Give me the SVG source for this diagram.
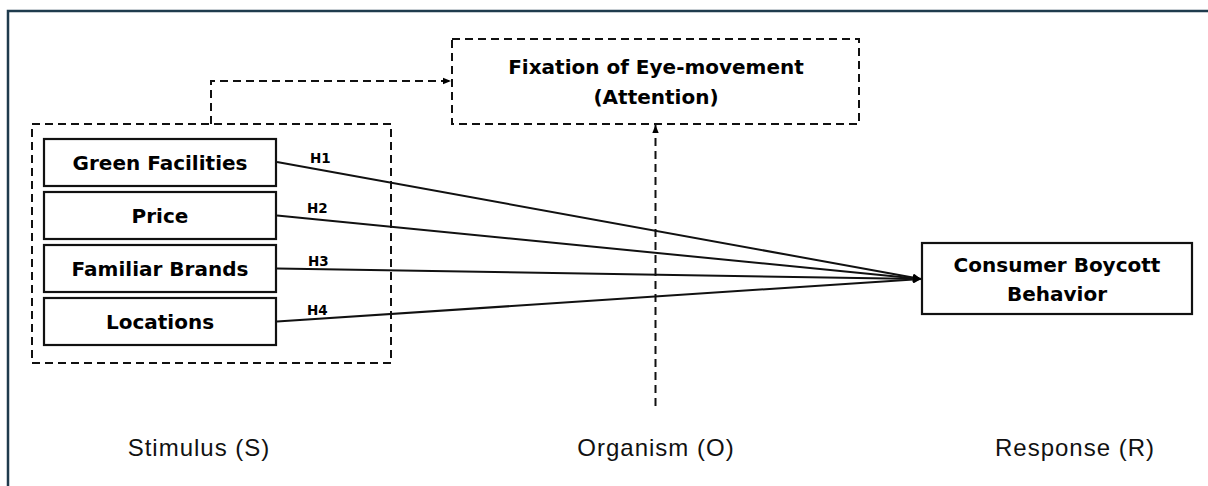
<svg xmlns="http://www.w3.org/2000/svg" width="1208" height="486" viewBox="0 0 1208 486">
  <defs>
    <marker id="arr" viewBox="0 0 10 10" refX="10" refY="5" markerWidth="10" markerHeight="8" markerUnits="userSpaceOnUse" orient="auto">
      <path d="M0,0 L10,5 L0,10 z" fill="#000"/>
    </marker>
    <marker id="arrs" viewBox="0 0 10 10" refX="10" refY="5" markerWidth="8" markerHeight="8" markerUnits="userSpaceOnUse" orient="auto">
      <path d="M0,1 L10,5 L0,9 z" fill="#000"/>
    </marker>
  </defs>
  <style>
    .box { fill: #fff; stroke: #111; stroke-width: 2.2; }
    .dbox { fill: none; stroke: #111; stroke-width: 2; stroke-dasharray: 8 5; }
    .lbl { font-family: "DejaVu Sans", sans-serif; font-weight: bold; font-size: 20px; fill: #000; text-anchor: middle; }
    .h { font-family: "DejaVu Sans", sans-serif; font-weight: bold; font-size: 13.5px; fill: #000; }
    .stage { font-family: "Liberation Sans", Arial, sans-serif; font-size: 24px; letter-spacing: 1px; fill: #111; text-anchor: middle; }
    .edge { fill: none; stroke: #111; stroke-width: 2; }
    .dedge { fill: none; stroke: #111; stroke-width: 2; stroke-dasharray: 8 5; }
  </style>
  <rect x="0" y="0" width="1208" height="486" fill="#fff"/>
  <rect x="8" y="11" width="1220" height="500" fill="none" stroke="#1f3b4d" stroke-width="2.5"/>

  <g id="stimulus-group">
    <rect class="dbox" x="32" y="124" width="359" height="239"/>
  </g>

  <g id="green-facilities">
    <rect class="box" x="44" y="139" width="232" height="47"/>
    <text class="lbl" x="160" y="169.5">Green Facilities</text>
  </g>
  <g id="price">
    <rect class="box" x="44" y="192" width="232" height="47"/>
    <text class="lbl" x="160" y="222.5">Price</text>
  </g>
  <g id="familiar-brands">
    <rect class="box" x="44" y="245" width="232" height="47"/>
    <text class="lbl" x="160" y="275.5">Familiar Brands</text>
  </g>
  <g id="locations">
    <rect class="box" x="44" y="298" width="232" height="47"/>
    <text class="lbl" x="160" y="328.5">Locations</text>
  </g>

  <g id="fixation">
    <rect class="dbox" x="452" y="39" width="407" height="85"/>
    <text class="lbl" x="656" y="74">Fixation of Eye-movement</text>
    <text class="lbl" x="656" y="104">(Attention)</text>
  </g>

  <g id="consumer-boycott">
    <rect class="box" x="922" y="243" width="270" height="71"/>
    <text class="lbl" x="1057" y="272">Consumer Boycott</text>
    <text class="lbl" x="1057" y="301">Behavior</text>
  </g>

  <g id="connectors">
    <line class="edge" x1="277" y1="162" x2="921" y2="279" marker-end="url(#arr)"/>
    <line class="edge" x1="277" y1="215.5" x2="921" y2="279" marker-end="url(#arr)"/>
    <line class="edge" x1="277" y1="268.5" x2="921" y2="279" marker-end="url(#arr)"/>
    <line class="edge" x1="277" y1="321.5" x2="921" y2="279" marker-end="url(#arr)"/>
    <path class="dedge" d="M211,124 L211,81 L451,81" marker-end="url(#arrs)"/>
    <path class="dedge" d="M655.5,406 L655.5,125" marker-end="url(#arrs)"/>
    <text class="h" x="310" y="163">H1</text>
    <text class="h" x="307" y="213">H2</text>
    <text class="h" x="308" y="266">H3</text>
    <text class="h" x="307" y="315">H4</text>
  </g>

  <g id="stages">
    <text class="stage" x="199" y="456">Stimulus (S)</text>
    <text class="stage" x="656" y="456">Organism (O)</text>
    <text class="stage" x="1075" y="456">Response (R)</text>
  </g>
</svg>
